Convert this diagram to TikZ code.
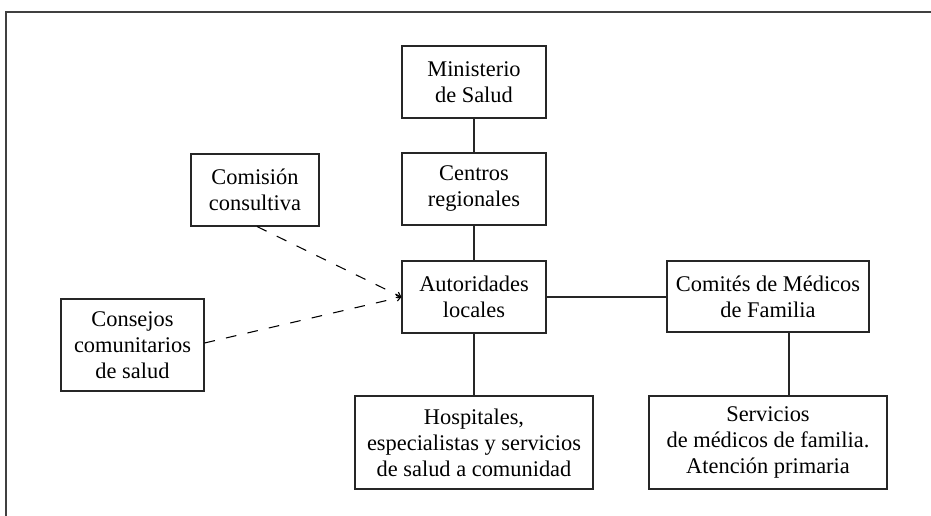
\documentclass[tikz,border=0pt]{standalone}
\usepackage{fontspec}
\setmainfont{Liberation Serif}
\usetikzlibrary{arrows.meta}
\begin{document}
\begin{tikzpicture}[x=0.75pt,y=-0.75pt,
  box/.style={draw=black!85,line width=0.8pt,rectangle,inner sep=0pt,align=center,
    font=\fontsize{16.8}{19.5}\selectfont},
  link/.style={draw=black!85,line width=0.8pt},
  dlink/.style={draw=black,line width=0.8pt,dash pattern=on 8pt off 8.5pt,
    -{Straight Barb[length=3pt,width=4.5pt]}}]
\useasboundingbox (0,0) rectangle (931,516);
\draw[line width=1.3pt,black!75] (6,516) -- (6,12) -- (931,12);
\node[box,minimum width=108pt,minimum height=54pt] (min) at (474,82) {Ministerio\\de Salud};
\node[box,minimum width=108pt,minimum height=54pt] (cen) at (474,189) {Centros\\regionales};
\node[box,minimum width=108pt,minimum height=54pt] (aut) at (474,297) {Autoridades\\locales};
\node[box,minimum width=96pt,minimum height=54pt] (com) at (255,190) {Comisión\\consultiva};
\node[box,minimum width=107.25pt,minimum height=69pt] (con) at (132.5,345) {Consejos\\comunitarios\\de salud};
\node[box,minimum width=151.5pt,minimum height=53.25pt] (cmf) at (768,296.5) {Comités de Médicos\\de Familia};
\node[box,minimum width=178.5pt,minimum height=69.75pt] (hos) at (474,442.5) {Hospitales,\\especialistas y servicios\\de salud a comunidad};
\node[box,minimum width=178.5pt,minimum height=69.75pt] (ser) at (768,442.5) {Servicios\\de médicos de familia.\\Atención primaria};
\draw[link] (min) -- (cen);
\draw[link] (cen) -- (aut);
\draw[link] (aut.south) -- (hos.north);
\draw[link] (aut.east) -- (cmf.west |- aut.east);
\draw[link] ([xshift=15.75pt]cmf.south) -- ([xshift=15.75pt]cmf.south |- ser.north);
\draw[dlink] ([xshift=1.5pt]com.south) -- (aut.west);
\draw[dlink] ([yshift=1.5pt]con.east) -- (aut.west);
\end{tikzpicture}
\end{document}
